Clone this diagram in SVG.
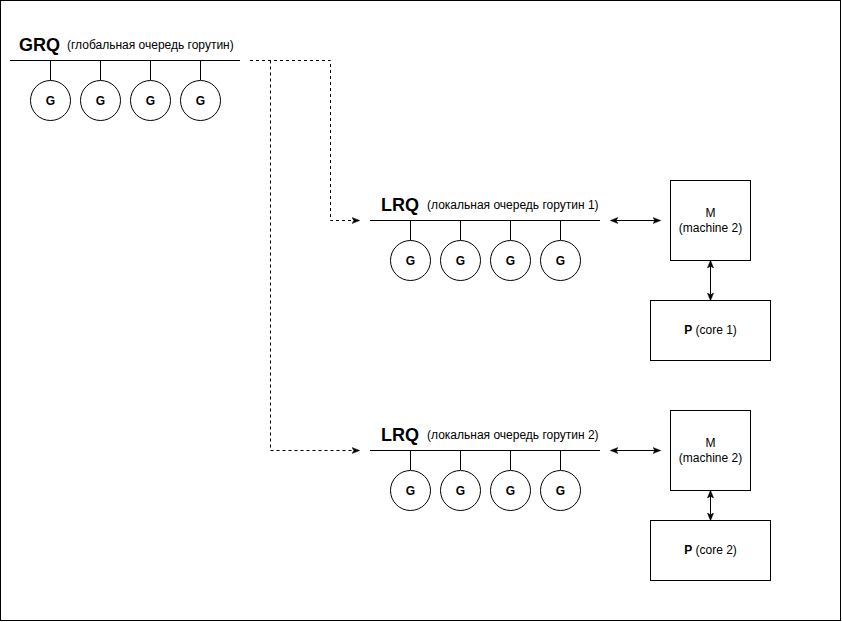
<svg xmlns="http://www.w3.org/2000/svg" width="842" height="622" viewBox="0 0 842 622">
<style>
.ln{stroke:#000;stroke-width:1;fill:none}
.dash{stroke:#000;stroke-width:1;fill:none;stroke-dasharray:3 3}
.g{fill:#fff;stroke:#000;stroke-width:1}
.box{fill:#fff;stroke:#000;stroke-width:1}
.gt{font-family:"Liberation Sans",Arial,sans-serif;font-size:12px;font-weight:bold;text-anchor:middle}
.big{font-family:"Liberation Sans",Arial,sans-serif;font-size:18px;font-weight:bold}
.sm{font-family:"Liberation Sans",Arial,sans-serif;font-size:12px}
.bt{font-family:"Liberation Sans",Arial,sans-serif;font-size:12px;text-anchor:middle}
</style>
<defs>
<marker id="ah" viewBox="0 0 10 10" refX="9" refY="5" markerWidth="8" markerHeight="8" markerUnits="userSpaceOnUse" orient="auto-start-reverse">
<path d="M0,1 L10,5 L0,9 L2.5,5 Z" fill="#000" stroke="#000" stroke-width="0.5"/>
</marker>
</defs>
<rect x="0.5" y="0.5" width="840" height="620" fill="#fff" stroke="#000"/>

<g id="grq">
<text class="big" x="19" y="51">GRQ</text>
<text class="sm" x="67" y="49">(глобальная очередь горутин)</text>
<line class="ln" x1="10" y1="60.5" x2="240" y2="60.5"/>
<path class="ln" d="M50.5,60 V80 M100.5,60 V80 M150.5,60 V80 M200.5,60 V80"/>
<circle class="g" cx="50.5" cy="100.5" r="20"/><text class="gt" x="50.5" y="105">G</text>
<circle class="g" cx="100.5" cy="100.5" r="20"/><text class="gt" x="100.5" y="105">G</text>
<circle class="g" cx="150.5" cy="100.5" r="20"/><text class="gt" x="150.5" y="105">G</text>
<circle class="g" cx="200.5" cy="100.5" r="20"/><text class="gt" x="200.5" y="105">G</text>
</g>

<g id="lrq1">
<text class="big" x="381" y="211">LRQ</text>
<text class="sm" x="427" y="209">(локальная очередь горутин 1)</text>
<line class="ln" x1="370" y1="220.5" x2="600" y2="220.5"/>
<path class="ln" d="M410.5,220 V240 M460.5,220 V240 M510.5,220 V240 M560.5,220 V240"/>
<circle class="g" cx="410.5" cy="260.5" r="20"/><text class="gt" x="410.5" y="265">G</text>
<circle class="g" cx="460.5" cy="260.5" r="20"/><text class="gt" x="460.5" y="265">G</text>
<circle class="g" cx="510.5" cy="260.5" r="20"/><text class="gt" x="510.5" y="265">G</text>
<circle class="g" cx="560.5" cy="260.5" r="20"/><text class="gt" x="560.5" y="265">G</text>
</g>

<g id="m1">
<rect class="box" x="670.5" y="180.5" width="80" height="80"/>
<text class="bt" x="710.5" y="217">M</text>
<text class="bt" x="710.5" y="232">(machine 2)</text>
</g>
<g id="p1">
<rect class="box" x="650.5" y="300.5" width="120" height="60"/>
<text class="bt" x="710.5" y="334"><tspan font-weight="bold">P</tspan> (core 1)</text>
</g>

<g id="lrq2">
<text class="big" x="381" y="441">LRQ</text>
<text class="sm" x="427" y="439">(локальная очередь горутин 2)</text>
<line class="ln" x1="370" y1="450.5" x2="600" y2="450.5"/>
<path class="ln" d="M410.5,450 V470 M460.5,450 V470 M510.5,450 V470 M560.5,450 V470"/>
<circle class="g" cx="410.5" cy="490.5" r="20"/><text class="gt" x="410.5" y="495">G</text>
<circle class="g" cx="460.5" cy="490.5" r="20"/><text class="gt" x="460.5" y="495">G</text>
<circle class="g" cx="510.5" cy="490.5" r="20"/><text class="gt" x="510.5" y="495">G</text>
<circle class="g" cx="560.5" cy="490.5" r="20"/><text class="gt" x="560.5" y="495">G</text>
</g>

<g id="m2">
<rect class="box" x="670.5" y="410.5" width="80" height="80"/>
<text class="bt" x="710.5" y="447">M</text>
<text class="bt" x="710.5" y="462">(machine 2)</text>
</g>
<g id="p2">
<rect class="box" x="650.5" y="520.5" width="120" height="60"/>
<text class="bt" x="710.5" y="554"><tspan font-weight="bold">P</tspan> (core 2)</text>
</g>

<g id="connectors">
<path class="dash" d="M250,60.5 H330.5 V220.5 H359" marker-end="url(#ah)"/>
<path class="dash" d="M270.5,60.5 V450.5 H359" marker-end="url(#ah)"/>
<line class="ln" x1="611" y1="220.5" x2="660" y2="220.5" marker-start="url(#ah)" marker-end="url(#ah)"/>
<line class="ln" x1="710.5" y1="261" x2="710.5" y2="300" marker-start="url(#ah)" marker-end="url(#ah)"/>
<line class="ln" x1="611" y1="450.5" x2="660" y2="450.5" stroke="#333" marker-start="url(#ah)" marker-end="url(#ah)"/>
<line class="ln" x1="710.5" y1="491" x2="710.5" y2="520" marker-start="url(#ah)" marker-end="url(#ah)"/>
</g>
</svg>
